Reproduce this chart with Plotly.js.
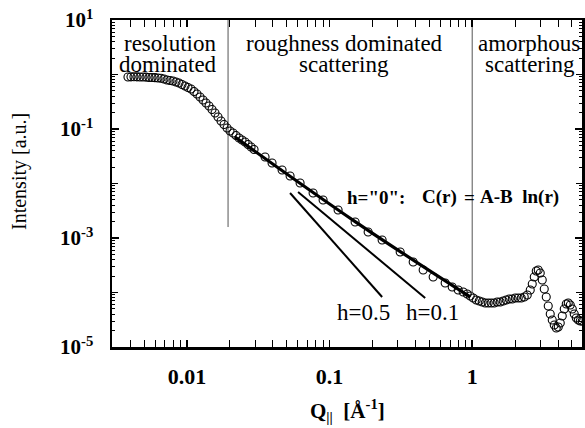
<!DOCTYPE html>
<html>
<head>
<meta charset="utf-8">
<script src="https://cdn.plot.ly/plotly-3.0.1.min.js"></script>
<style>html,body{margin:0;padding:0;background:#fff}</style>
</head>
<body>
<div id="chart" style="width:585px;height:428px"></div>
<script>
// Measured data (Q in 1/Angstrom, intensity in a.u.)
const qData = [
  0.003855,0.004046,0.004246,0.004457,0.004679,0.004911,0.005155,0.005411,0.005680,0.005962,
  0.006258,0.006569,0.006896,0.007238,0.007598,0.007975,0.008372,0.008788,0.009224,0.009683,
  0.01016,0.01067,0.01120,0.01175,0.01234,0.01295,0.01359,0.01427,0.01498,0.01572,
  0.01650,0.01732,0.01818,0.01909,0.02003,0.02103,0.02207,0.02317,0.02432,0.02553,
  0.02680,0.02813,0.02953,
  0.03527,0.03948,0.04642,0.05283,0.06209,0.07660,0.09002,0.1147,0.1510,0.1863,
  0.2335,0.3125,0.3855,0.4530,0.5324,0.6462,0.7239,0.7977,0.8646,0.9224,0.9682,
  1.016,1.067,1.120,1.175,1.234,1.295,1.359,1.427,1.498,1.572,
  1.650,1.732,1.818,1.909,2.004,2.103,2.208,2.317,2.432,2.553,
  2.637,2.723,2.813,2.905,3.000,3.099,3.201,3.306,3.414,3.526,
  3.642,3.762,3.885,4.013,4.145,4.281,4.421,4.566,4.717,4.872,
  5.032,5.197,5.367,5.544,5.726,5.914
];
const iData = [
  0.900,0.905,0.910,0.905,0.900,0.900,0.895,0.881,0.881,0.875,
  0.863,0.852,0.827,0.793,0.776,0.760,0.728,0.698,0.656,0.615,
  0.577,0.542,0.488,0.439,0.386,0.340,0.300,0.264,0.228,0.197,
  0.166,0.140,0.121,0.104,0.0918,0.0845,0.0760,0.0684,0.0628,0.0577,
  0.0520,0.0468,0.0421,
  0.03063,0.02377,0.01769,0.01373,0.01021,0.006694,0.004981,0.003265,0.001966,0.001289,
  0.000919,0.000553,0.000363,0.000259,0.0001926,0.0001494,0.0001262,0.0001111,0.0001021,0.0000939,0.0000863,
  7.93e-5,7.29e-5,6.98e-5,6.69e-5,6.42e-5,6.42e-5,6.42e-5,6.42e-5,6.69e-5,6.69e-5,
  6.98e-5,7.29e-5,7.60e-5,7.60e-5,7.93e-5,7.93e-5,7.93e-5,8.27e-5,9.00e-5,1.111e-4,
  1.432e-4,1.926e-4,2.480e-4,2.587e-4,2.279e-4,1.696e-4,1.159e-4,8.27e-5,5.65e-5,4.03e-5,
  3.13e-5,2.53e-5,2.23e-5,2.33e-5,2.76e-5,3.71e-5,4.98e-5,6.15e-5,6.42e-5,5.90e-5,
  4.98e-5,4.03e-5,3.40e-5,3.13e-5,3.00e-5,3.00e-5
];

// Model lines
const fitQ = [0.0217, 0.151, 0.968];
const fitI = [0.0713, 0.00200, 8.3e-5];
const h01Q = [0.0601, 0.468];
const h01I = [0.00698, 7.93e-5];
const h05Q = [0.0528, 0.2335];
const h05I = [0.0067, 8.27e-5];

// Region separators
const sep1Q = [0.0194, 0.0194];
const sep1I = [10, 1.59e-3];
const sep2Q = [1.0, 1.0];
const sep2I = [10, 9.8e-5];

// Tick labels
const xTickVals = [0.01, 0.1, 1];
const xTickText = ['<b>0.01</b>', '<b>0.1</b>', '<b>1</b>'];
const yTickVals = [10, 0.1, 0.001, 1e-5];
const yTickText = ['<b>10<sup>1</sup></b>', '<b>10<sup>-1</sup></b>', '<b>10<sup>-3</sup></b>', '<b>10<sup>-5</sup></b>'];
const yUnlabeledDecades = [1, 0.01, 1e-4];

function minorVals(lo, hi) {
  const v = [];
  for (let e = lo; e < hi; e++) for (let k = 2; k <= 9; k++) v.push(k * Math.pow(10, e));
  return v;
}

const SERIF = '"Liberation Serif", "Times New Roman", serif';

const traces = [
  {x: sep1Q, y: sep1I, mode: 'lines', line: {color: '#555', width: 1}, hoverinfo: 'skip'},
  {x: h05Q, y: h05I, mode: 'lines', line: {color: '#000', width: 2}},
  {x: h01Q, y: h01I, mode: 'lines', line: {color: '#000', width: 2}},
  {x: qData, y: iData, mode: 'markers',
   marker: {symbol: 'circle-open', size: 8, color: '#000', line: {width: 1.1, color: '#000'}}},
  {x: fitQ, y: fitI, mode: 'lines', line: {color: '#000', width: 3.2, shape: 'spline'}},
  {x: [0.01], y: [1], xaxis: 'x', yaxis: 'y2', mode: 'markers', marker: {opacity: 0}, hoverinfo: 'skip'}
];

const W = 470, H = 327, L = 112, T = 20;
function px(x) { return (x - L) / W; }
function py(y) { return (T + H - y) / H; }

function ann(text, x, y, size, extra) {
  return Object.assign({
    text: text, xref: 'paper', yref: 'paper', x: px(x), y: py(y),
    showarrow: false, xanchor: 'center', yanchor: 'middle',
    font: {family: SERIF, size: size, color: '#000'}
  }, extra || {});
}

const NB = '\u00A0';
const layout = {
  width: 585, height: 428,
  margin: {l: L, r: 3, t: T, b: 81},
  paper_bgcolor: '#fff', plot_bgcolor: '#fff',
  showlegend: false,
  xaxis: {
    type: 'log', range: [-2.526, 0.77],
    tickmode: 'array', tickvals: xTickVals, ticktext: xTickText,
    ticks: 'inside', ticklen: 7, tickwidth: 1.5, tickcolor: '#000',
    showline: true, linewidth: 2.5, linecolor: '#000', mirror: 'allticks',
    showgrid: false, zeroline: false,
    tickfont: {family: SERIF, size: 22, color: '#000'},
    ticklabelstandoff: 8,
    minor: {ticks: 'inside', ticklen: 3, tickwidth: 1, tickcolor: '#000', tickmode: 'array', tickvals: minorVals(-3, 1), showgrid: false}
  },
  yaxis: {
    type: 'log', range: [-5, 1],
    tickmode: 'array', tickvals: yTickVals, ticktext: yTickText,
    ticks: 'inside', ticklen: 7, tickwidth: 1.5, tickcolor: '#000',
    showline: true, linewidth: 2.5, linecolor: '#000', mirror: 'allticks',
    showgrid: false, zeroline: false,
    tickfont: {family: SERIF, size: 21, color: '#000'},
    ticklabelstandoff: 12,
    minor: {ticks: 'inside', ticklen: 3, tickwidth: 1, tickcolor: '#000', tickmode: 'array', tickvals: minorVals(-5, 1), showgrid: false}
  },
  yaxis2: {
    type: 'log', range: [-5, 1], overlaying: 'y', side: 'left',
    tickmode: 'array', tickvals: yUnlabeledDecades,
    showticklabels: false, ticks: 'inside', ticklen: 6, tickwidth: 1.3, tickcolor: '#000',
    showline: false, mirror: 'ticks', showgrid: false, zeroline: false
  },
  annotations: [
    ann('resolution', 170, 43, 23),
    ann('dominated', 168, 64, 23),
    ann('roughness dominated', 344, 43, 23),
    ann('scattering', 344, 65, 23),
    ann('amorphous', 529, 43, 23),
    ann('scattering', 530, 65, 23),
    ann('<b>h="0":</b>', 345, 197, 19, {xanchor: 'left'}),
    ann('<b>C(r)</b>', 420, 197, 19, {xanchor: 'left'}),
    ann('<b>=</b>', 462, 197, 19, {xanchor: 'left'}),
    ann('<b>A-B' + NB + NB + 'ln(r)</b>', 561, 197, 19, {xanchor: 'right'}),
    ann('h=0.5', 363, 312, 23),
    ann('h=0.1', 432, 312, 23),
    ann('Intensity [a.u.]', 20, 172, 20, {textangle: -90}),
    ann('<b>Q<sub>||</sub>' + NB + NB + '[Å<sup>-1</sup>]</b>', 347, 410, 21)
  ],
  shapes: []
};

// separator at Q = 1 drawn above the annotation text (as in the reference, it crosses the "=")
Plotly.newPlot('chart', traces.concat([
  {x: sep2Q, y: sep2I, mode: 'lines', line: {color: '#555', width: 1}, hoverinfo: 'skip'}
]), layout, {displayModeBar: false, staticPlot: true});
</script>
</body>
</html>
